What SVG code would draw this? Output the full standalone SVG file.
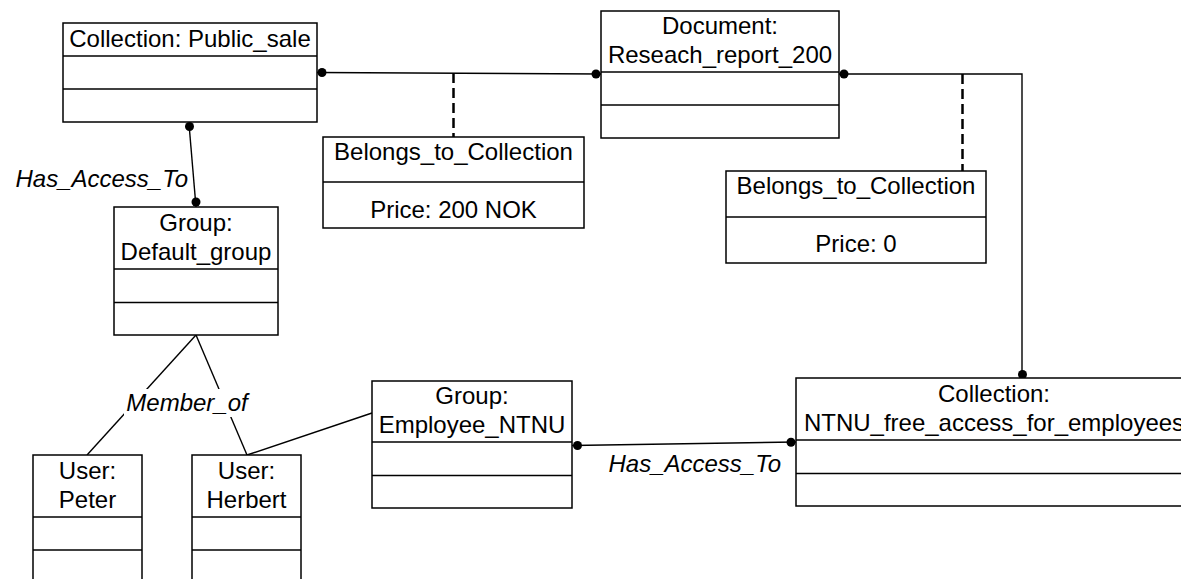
<svg xmlns="http://www.w3.org/2000/svg" width="1181" height="579" viewBox="0 0 1181 579">
<style>
.box{fill:#fff;stroke:#000;stroke-width:1.5}
.div{stroke:#000;stroke-width:1.5}
.t{font-family:"Liberation Sans",Arial,sans-serif;font-size:24px;fill:#000;text-anchor:middle}
.lbl{font-family:"Liberation Sans",Arial,sans-serif;font-size:24px;font-style:italic;fill:#000}
.ln{stroke:#000;stroke-width:1.4;fill:none}
.dash{stroke:#000;stroke-width:2.5;stroke-dasharray:10 5;fill:none}
.dot{fill:#000}
</style>
<rect width="1181" height="579" fill="#fff"/>
<g id="connectors">
<line class="ln" x1="317" y1="72.5" x2="601" y2="74"/>
<circle class="dot" cx="322" cy="72.5" r="4.5"/>
<circle class="dot" cx="596" cy="74" r="4.5"/>
<line class="dash" x1="453.5" y1="73" x2="453.5" y2="137"/>
<polyline class="ln" points="839,74 1022,74 1022,378"/>
<circle class="dot" cx="844" cy="74" r="4.5"/>
<circle class="dot" cx="1022.5" cy="374.5" r="4.5"/>
<line class="dash" x1="962.5" y1="74" x2="962.5" y2="171"/>
<line class="ln" x1="189" y1="124" x2="196" y2="207"/>
<circle class="dot" cx="189.5" cy="126.5" r="4.5"/>
<circle class="dot" cx="196" cy="202" r="4.5"/>
<text class="lbl" x="188" y="187" text-anchor="end">Has_Access_To</text>
<line class="ln" x1="196" y1="335" x2="87" y2="455"/>
<line class="ln" x1="196" y1="335" x2="247" y2="455"/>
<rect x="124" y="389" width="128" height="28" fill="#fff"/>
<text class="lbl" x="187" y="411" text-anchor="middle">Member_of</text>
<line class="ln" x1="247" y1="455" x2="372" y2="413"/>
<line class="ln" x1="572" y1="445.5" x2="796" y2="442"/>
<circle class="dot" cx="577.5" cy="445.5" r="4.5"/>
<circle class="dot" cx="791" cy="442.3" r="4.5"/>
<text class="lbl" x="781" y="472" text-anchor="end">Has_Access_To</text>
</g>
<g id="collection-public-sale">
<rect class="box" x="63" y="23" width="254" height="99"/>
<line class="div" x1="63" y1="56" x2="317" y2="56"/>
<line class="div" x1="63" y1="89" x2="317" y2="89"/>
<text class="t" x="190" y="47">Collection: Public_sale</text>
</g>
<g id="document-reseach-report">
<rect class="box" x="601" y="11" width="238" height="127"/>
<line class="div" x1="601" y1="72" x2="839" y2="72"/>
<line class="div" x1="601" y1="105" x2="839" y2="105"/>
<text class="t" x="720" y="34">Document:</text>
<text class="t" x="720" y="63">Reseach_report_200</text>
</g>
<g id="belongs-1">
<rect class="box" x="323" y="137" width="261" height="91"/>
<line class="div" x1="323" y1="182" x2="584" y2="182"/>
<text class="t" x="453.5" y="160">Belongs_to_Collection</text>
<text class="t" x="453.5" y="218">Price: 200 NOK</text>
</g>
<g id="belongs-2">
<rect class="box" x="726" y="171" width="260" height="92"/>
<line class="div" x1="726" y1="217" x2="986" y2="217"/>
<text class="t" x="856" y="194">Belongs_to_Collection</text>
<text class="t" x="856" y="252">Price: 0</text>
</g>
<g id="group-default">
<rect class="box" x="114" y="207" width="164" height="128"/>
<line class="div" x1="114" y1="269" x2="278" y2="269"/>
<line class="div" x1="114" y1="302.5" x2="278" y2="302.5"/>
<text class="t" x="196" y="231">Group:</text>
<text class="t" x="196" y="260">Default_group</text>
</g>
<g id="user-peter">
<rect class="box" x="33" y="455" width="109" height="160"/>
<line class="div" x1="33" y1="517" x2="142" y2="517"/>
<line class="div" x1="33" y1="550" x2="142" y2="550"/>
<text class="t" x="87.5" y="479">User:</text>
<text class="t" x="87.5" y="508">Peter</text>
</g>
<g id="user-herbert">
<rect class="box" x="192" y="455" width="109" height="160"/>
<line class="div" x1="192" y1="517" x2="301" y2="517"/>
<line class="div" x1="192" y1="550" x2="301" y2="550"/>
<text class="t" x="246.5" y="479">User:</text>
<text class="t" x="246.5" y="508">Herbert</text>
</g>
<g id="group-employee-ntnu">
<rect class="box" x="372" y="381" width="200" height="127"/>
<line class="div" x1="372" y1="442" x2="572" y2="442"/>
<line class="div" x1="372" y1="475.5" x2="572" y2="475.5"/>
<text class="t" x="472" y="404">Group:</text>
<text class="t" x="472" y="433">Employee_NTNU</text>
</g>
<g id="collection-ntnu">
<rect class="box" x="796" y="378" width="396" height="128"/>
<line class="div" x1="796" y1="440" x2="1192" y2="440"/>
<line class="div" x1="796" y1="473.5" x2="1192" y2="473.5"/>
<text class="t" x="994" y="402">Collection:</text>
<text class="t" x="994" y="431">NTNU_free_access_for_employees</text>
</g>
</svg>
